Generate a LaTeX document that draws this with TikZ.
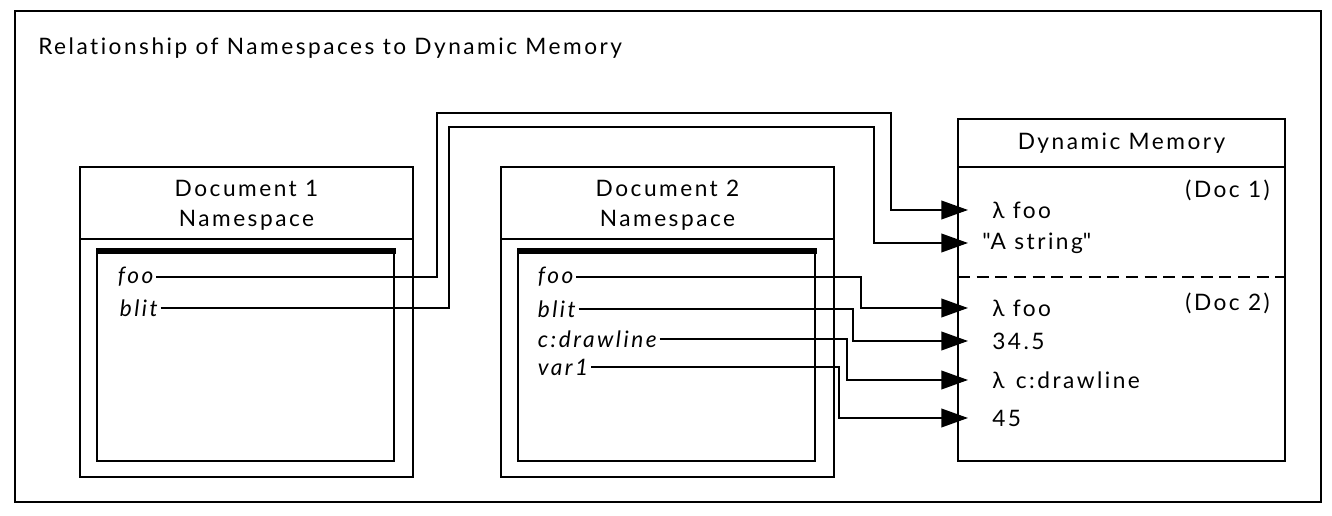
\documentclass[tikz,border=0pt]{standalone}
\usepackage{fontspec}
\setmainfont[LetterSpace=11,Ligatures=NoCommon]{Lato}
\usetikzlibrary{arrows.meta,positioning}

\begin{document}
\begin{tikzpicture}[x=0.75pt,y=-0.75pt,>={Triangle[length=20pt,width=14pt]},
  font=\fontsize{17}{22.5}\selectfont,
  box/.style={draw,line width=1.4pt},
  link/.style={->,line width=1.3pt},
  var/.style={anchor=west,inner sep=2pt,font=\fontsize{17}{22.5}\selectfont\itshape},
  mem/.style={anchor=west,inner sep=0pt}]
\useasboundingbox (0,0) rectangle (1332,516);
\draw[line width=1.5pt] (15,11) rectangle (1321,502);
\node[anchor=west,inner sep=0pt] (title) at (38,48) {Relationship of Namespaces to Dynamic Memory};
% the two namespaces
\foreach \x/\n in {80/1,501/2}
{ \draw[box] (\x,167) rectangle ++(333,310);
  \draw[box] (\x,239) -- ++(333,0);
  \draw[box] (\x+17,251) rectangle ++(297,210);
  \draw[line width=4pt] (\x+16,251) -- ++(300,0);
  \node[align=center] (ns\n) at (\x+166.5,205) {Document \n\\Namespace}; }
% dynamic memory
\draw[box] (958,119) rectangle (1285,461);
\draw[box] (958,167) -- (1285,167);
\draw[box,dashed,dash pattern=on 9pt off 5pt] (958,277) -- (1285,277);
\node (dm) at (1121.5,143) {Dynamic Memory};
\node[anchor=east,inner sep=0pt] (doc1) at (1270,190) {(Doc 1)};
\node[anchor=east,inner sep=0pt] (doc2) at (1270,303) {(Doc 2)};
\node[mem] (m1) at (992,210) {λ foo};
\node[mem] (m2) at (982,243) {\textquotedbl A string\textquotedbl};
\node[mem] (m3) at (992,308) {λ foo};
\node[mem] (m4) at (992,341) {34.5};
\node[mem] (m5) at (992,380) {λ\enspace c:drawline};
\node[mem] (m6) at (992,418) {45};
\foreach \i/\y in {1/210,2/243,3/308,4/341,5/380,6/418}
  \coordinate (t\i) at (968,\y);
% document 1 links
\node[var] (afoo) at (115,277) {foo};
\node[var] (ablit) at (117,308) {blit};
\draw[link] (afoo.east) -| (437,113) -| (891,210) -- (t1);
\draw[link] (ablit.east) -| (449,127) -| (874,243) -- (t2);
% document 2 links
\foreach \v/\s/\ly/\vx/\i in {foo/bfoo/277/861/3,blit/bblit/309/853/4,c:drawline/bdraw/339/847/5,var1/bvar/367/839/6}
{ \node[var] (\s) at (535,\ly) {\v};
  \draw[link] (\s.east) -| (\vx,\ly) |- (t\i); }
\end{tikzpicture}
\end{document}
